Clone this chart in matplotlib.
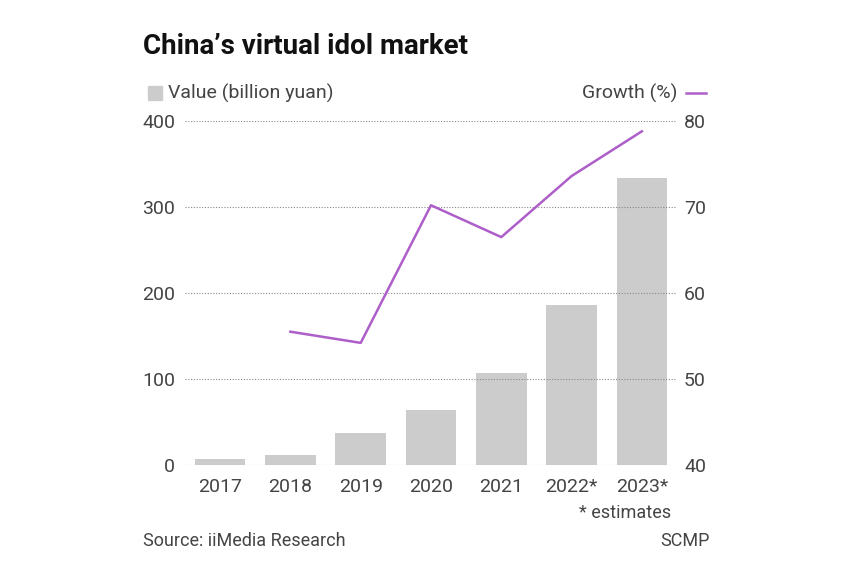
import numpy as np
import matplotlib
matplotlib.use("Agg")
import matplotlib.pyplot as plt
from matplotlib.patches import Rectangle
from matplotlib.lines import Line2D

plt.rcParams['font.family'] = ['Roboto', 'DejaVu Sans']

# data
years = ["2017", "2018", "2019", "2020", "2021", "2022*", "2023*"]
value = [7, 12, 37, 64, 107, 186, 334]          # billion yuan
growth_years = ["2018", "2019", "2020", "2021", "2022*", "2023*"]
growth = [55.5, 54.2, 70.2, 66.5, 73.6, 78.8]     # %

bar_col = "#cccccc"
line_col = "#ad5ec8"
txt_col = "#444444"

fig = plt.figure(figsize=(8.56, 5.64), dpi=100)
ax = fig.add_axes([185/856, 1-465/564, (677-185)/856, (465-121)/564])
x = np.arange(len(years))
ax.bar(x, value, width=0.72, color=bar_col, zorder=1)
ax.set_xlim(-0.5, 6.5)
ax.set_ylim(0, 400)
ax.set_yticks([0, 100, 200, 300, 400])
ax.set_xticks(x)
ax.set_xticklabels(years)
ax.yaxis.grid(True, linestyle=(0, (1, 1.5)), color="#888888", linewidth=0.8)
ax.set_axisbelow(False)
for s in ax.spines.values():
    s.set_visible(False)
ax.tick_params(axis='y', length=0, pad=7, labelsize=14, labelcolor=txt_col)
ax.tick_params(axis='x', length=0, pad=9, labelsize=14, labelcolor=txt_col)

ax2 = ax.twinx()
gx = [years.index(y) for y in growth_years]
ax2.plot(gx, growth, color=line_col, linewidth=1.8)
ax2.set_ylim(40, 80)
ax2.set_yticks([40, 50, 60, 70, 80])
for s in ax2.spines.values():
    s.set_visible(False)
ax2.tick_params(axis='y', length=0, pad=5, labelsize=14, labelcolor=txt_col)

# title and legend
fig.text(143/856, 1-47/564, "China\u2019s virtual idol market", fontsize=20,
         fontweight='bold', color="#111111", va='center', ha='left')
fig.patches.append(Rectangle((148/856, 1-100/564), 14/856, 14/564,
                             transform=fig.transFigure, color=bar_col))
fig.text(168/856, 1-93/564, "Value (billion yuan)", fontsize=14,
         color=txt_col, va='center', ha='left')
fig.text(677/856, 1-93/564, "Growth (%)", fontsize=14,
         color=txt_col, va='center', ha='right')
fig.lines.append(Line2D([686/856, 706/856], [1-93/564, 1-93/564],
                        transform=fig.transFigure, color=line_col, linewidth=1.8))

# notes
fig.text(671/856, 1-513/564, "* estimates", fontsize=13,
         color=txt_col, va='center', ha='right')
fig.text(143/856, 1-541/564, "Source: iiMedia Research", fontsize=13,
         color=txt_col, va='center', ha='left')
fig.text(710/856, 1-541/564, "SCMP", fontsize=13,
         color=txt_col, va='center', ha='right')

fig.savefig("out.png", dpi=100, facecolor="white")
